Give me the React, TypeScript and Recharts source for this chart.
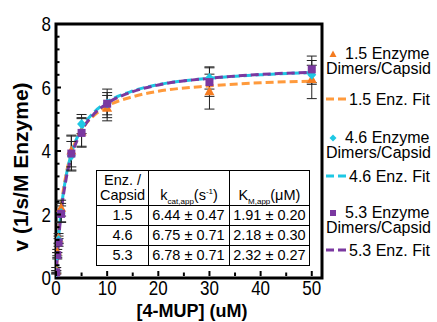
import React from 'react'
import { ComposedChart, Line, Scatter, XAxis, YAxis, ErrorBar, ReferenceArea } from 'recharts'

const FONT = "'Liberation Sans', Arial, sans-serif"

// measured points: [4-MUP] (uM) vs v
const conc = [0.05, 0.25, 0.5, 1, 3, 5, 10, 30, 50]
const v15 = [0.25, 0.8, 1.25, 2.2, 4.0, 4.6, 5.35, 5.87, 6.25]
const err15 = [0.08, 0.1, 0.15, 0.25, 0.5, 0.45, 0.4, 0.55, 0.6]
const v46 = [0.18, 0.7, 1.2, 2.05, 3.85, 4.85, 5.5, 6.3, 6.4]
const err46 = [0.05, 0.1, 0.12, 0.3, 0.45, 0.3, 0.45, 0.35, 0.3]
const v53 = [0.18, 0.72, 1.12, 2.02, 3.92, 4.57, 5.49, 6.17, 6.57]
const err53 = [0.05, 0.08, 0.12, 0.25, 0.55, 0.45, 0.35, 0.45, 0.42]

// fit curves
const fitConc = [0, 0.1, 0.25, 0.5, 1, 2, 3, 5, 7.5, 10, 15, 20, 30, 40, 50]
const fit15 = [0, 0.32, 0.75, 1.34, 2.21, 3.29, 3.93, 4.66, 5.13, 5.41, 5.71, 5.88, 6.05, 6.15, 6.2]
const fit46 = [0, 0.3, 0.69, 1.26, 2.12, 3.23, 3.91, 4.7, 5.23, 5.54, 5.89, 6.09, 6.29, 6.4, 6.47]
const fit53 = [0, 0.28, 0.66, 1.2, 2.04, 3.14, 3.82, 4.63, 5.18, 5.5, 5.87, 6.08, 6.29, 6.41, 6.48]

const xTicks = [0, 5, 10, 15, 20, 25, 30, 35, 40, 45, 50]
const xLabels = [0, 10, 20, 30, 40, 50]
const yTicks = [0, 0.4, 0.8, 1.2, 1.6, 2, 2.4, 2.8, 3.2, 3.6, 4, 4.4, 4.8, 5.2, 5.6, 6, 6.4, 6.8, 7.2, 7.6, 8]
const yLabels = [0, 2, 4, 6, 8]

// table
const enzRatio = ['1.5', '4.6', '5.3']
const kcat = ['6.44 ± 0.47', '6.75 ± 0.71', '6.78 ± 0.71']
const km = ['1.91 ± 0.20', '2.18 ± 0.30', '2.32 ± 0.27']

const ORANGE = '#F47B20'
const ORANGE_FIT = '#FF9A3C'
const CYAN = '#1EC8E4'
const PURPLE = '#7A38A0'

const pts = (ys: number[], es: number[]) => conc.map((x, i) => ({ x, y: ys[i], e: es[i] }))
const fit = (ys: number[]) => fitConc.map((x, i) => ({ x, y: ys[i] }))

const TRI = (p: any) => {
  const { cx, cy } = p
  return <polygon points={`${cx},${cy - 5.5} ${cx + 5},${cy + 3.5} ${cx - 5},${cy + 3.5}`} fill={ORANGE} />
}
const DIA = (p: any) => {
  const { cx, cy } = p
  return <polygon points={`${cx},${cy - 5} ${cx + 4.5},${cy} ${cx},${cy + 5} ${cx - 4.5},${cy}`} fill={CYAN} />
}
const SQ = (p: any) => {
  const { cx, cy } = p
  return <rect x={cx - 4} y={cy - 4} width={8} height={8} fill={PURPLE} />
}

const TICK_GAP = 4
const XTick = (props: any) => {
  const { x, y, payload } = props
  const major = xLabels.includes(payload.value)
  const ay = y - TICK_GAP
  return (
    <g>
      <line x1={x} x2={x} y1={ay} y2={ay - (major ? 5 : 3.5)} stroke="#000" strokeWidth={2} />
      {major && (
        <text transform={`translate(${x},${y}) scale(1,1.2)`} textAnchor="middle" dy="0.72em" fontSize={17} fill="#000" fontFamily={FONT}>
          {payload.value}
        </text>
      )}
    </g>
  )
}
const YTick = (props: any) => {
  const { x, y, payload } = props
  const major = yLabels.includes(payload.value)
  const ax = x + TICK_GAP
  return (
    <g>
      <line x1={ax} x2={ax + (major ? 5 : 3.5)} y1={y} y2={y} stroke="#000" strokeWidth={2} />
      {major && (
        <text transform={`translate(${x - 1},${y}) scale(1,1.2)`} textAnchor="end" dy="0.36em" fontSize={17} fill="#000" fontFamily={FONT}>
          {payload.value}
        </text>
      )}
    </g>
  )
}

const legendItems = [
  { label: '1.5', color: ORANGE, fitColor: ORANGE_FIT, top: 53, fitTop: 99, shape: 'tri' },
  { label: '4.6', color: CYAN, fitColor: CYAN, top: 137, fitTop: 176, shape: 'dia' },
  { label: '5.3', color: PURPLE, fitColor: PURPLE, top: 212, fitTop: 250, shape: 'sq' },
]

function Marker({ shape, color }: { shape: string; color: string }) {
  return (
    <svg width={8} height={8} style={{ position: 'absolute', left: 329, top: -4 }}>
      {shape === 'tri' && <polygon points="4,0.5 7.5,7 0.5,7" fill={color} />}
      {shape === 'dia' && <polygon points="4,0.5 7.5,4 4,7.5 0.5,4" fill={color} />}
      {shape === 'sq' && <rect x={1} y={1} width={6} height={6} fill={color} />}
    </svg>
  )
}

function LegendBlock() {
  const txt: React.CSSProperties = { position: 'absolute', fontSize: 16, lineHeight: '15px', whiteSpace: 'pre', color: '#000' }
  return (
    <>
      {legendItems.map((it) => (
        <React.Fragment key={it.label}>
          <div style={{ position: 'absolute', left: 0, top: it.top + 1 }}>
            <Marker shape={it.shape} color={it.color} />
          </div>
          <div style={{ ...txt, left: 326, top: it.top - 7.5, textIndent: 19 }}>{`${it.label} Enzyme\nDimers/Capsid`}</div>
          <svg width={24} height={6} style={{ position: 'absolute', left: 326, top: it.fitTop - 3 }}>
            <line x1={0} x2={22} y1={3} y2={3} stroke={it.fitColor} strokeWidth={3} strokeDasharray="8 4" />
          </svg>
          <div style={{ ...txt, left: 349, top: it.fitTop - 7.5 }}>{it.label} Enz. Fit</div>
        </React.Fragment>
      ))}
    </>
  )
}

function ParamTable() {
  const cell: React.CSSProperties = { border: '1px solid #000', padding: '0 3px', whiteSpace: 'nowrap' }
  const sub: React.CSSProperties = { fontSize: 8, lineHeight: 0 }
  return (
    <table style={{ position: 'absolute', left: 96, top: 170, borderCollapse: 'collapse', fontSize: 14.5, lineHeight: '15px', fontFamily: FONT, color: '#000' }}>
      <tbody>
        <tr style={{ height: 35 }}>
          <td style={{ ...cell, width: 42, textAlign: 'center', verticalAlign: 'middle' }}>Enz. /<br />Capsid</td>
          <td style={{ ...cell, width: 74, textAlign: 'center', verticalAlign: 'bottom', paddingBottom: 2 }}>
            k<sub style={sub}>cat,app</sub>(s<sup style={sub}>-1</sup>)
          </td>
          <td style={{ ...cell, width: 70, textAlign: 'center', verticalAlign: 'bottom', paddingBottom: 2 }}>
            K<sub style={sub}>M,app</sub>(μM)
          </td>
        </tr>
        {enzRatio.map((r, i) => (
          <tr key={r} style={{ height: 20 }}>
            <td style={{ ...cell, textAlign: 'center' }}>{r}</td>
            <td style={cell}>{kcat[i]}</td>
            <td style={cell}>{km[i]}</td>
          </tr>
        ))}
      </tbody>
    </table>
  )
}

export default function App() {
  return (
    <div style={{ position: 'absolute', left: 0, top: 0, width: 437, height: 322, overflow: 'hidden', background: '#fff', fontFamily: FONT }}>
      <ComposedChart width={437} height={322} margin={{ top: 24, right: 115, bottom: 0, left: 0 }}>
        <XAxis
          type="number"
          dataKey="x"
          domain={[0, 52]}
          ticks={xTicks}
          interval={0}
          allowDataOverflow
          height={44}
          tickSize={0}
          tickMargin={2}
          axisLine={false}
          tickLine={false}
          tick={(p: any) => <XTick {...p} />}
          label={{
            content: () => (
              <text x={192} y={317} textAnchor="middle" fontSize={18} fontWeight="bold" fontFamily={FONT} fill="#000">
                [4-MUP] (uM)
              </text>
            ),
          }}
        />
        <YAxis
          type="number"
          domain={[0, 8]}
          ticks={yTicks}
          interval={0}
          allowDataOverflow
          width={56}
          tickSize={0}
          tickMargin={TICK_GAP}
          axisLine={false}
          tickLine={false}
          tick={(p: any) => <YTick {...p} />}
          label={{
            content: () => (
              <text transform="translate(28,167) rotate(-90)" textAnchor="middle" fontSize={21} fontWeight="bold" fontFamily={FONT} fill="#000">
                v (1/s/M Enzyme)
              </text>
            ),
          }}
        />
        <ReferenceArea x1={0} x2={52} y1={0} y2={8} fill="none" stroke="#000" strokeWidth={3} ifOverflow="visible" />
        <Line data={fit(fit15)} dataKey="y" type="monotone" stroke={ORANGE_FIT} strokeWidth={3} strokeDasharray="8 4" dot={false} isAnimationActive={false} />
        <Line data={fit(fit46)} dataKey="y" type="monotone" stroke={CYAN} strokeWidth={3} strokeDasharray="8 4" strokeDashoffset={6} dot={false} isAnimationActive={false} />
        <Line data={fit(fit53)} dataKey="y" type="monotone" stroke={PURPLE} strokeWidth={3} strokeDasharray="8 4" dot={false} isAnimationActive={false} />
        <Scatter data={pts(v15, err15)} dataKey="y" shape={TRI} isAnimationActive={false}>
          <ErrorBar dataKey="e" direction="y" width={5} stroke="#222" strokeWidth={1} />
        </Scatter>
        <Scatter data={pts(v46, err46)} dataKey="y" shape={DIA} isAnimationActive={false}>
          <ErrorBar dataKey="e" direction="y" width={5} stroke="#222" strokeWidth={1} />
        </Scatter>
        <Scatter data={pts(v53, err53)} dataKey="y" shape={SQ} isAnimationActive={false}>
          <ErrorBar dataKey="e" direction="y" width={5} stroke="#222" strokeWidth={1} />
        </Scatter>
      </ComposedChart>
      <ParamTable />
      <LegendBlock />
    </div>
  )
}
